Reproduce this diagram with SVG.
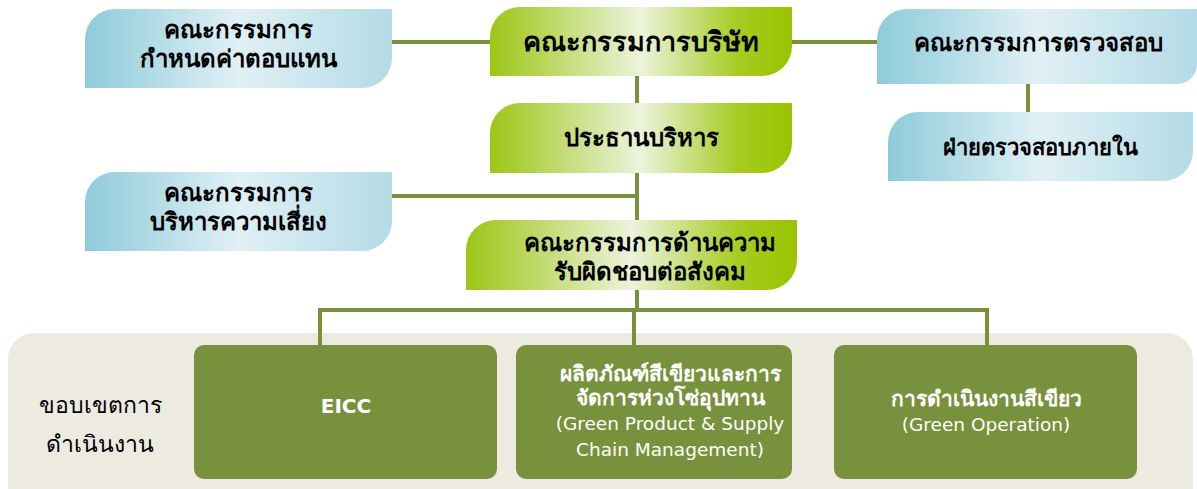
<svg xmlns="http://www.w3.org/2000/svg" width="1197" height="489" viewBox="0 0 1197 489">
<defs>
<linearGradient id="gb" x1="0" y1="0" x2="1" y2="0">
<stop offset="0" stop-color="#8ecbda"/>
<stop offset="0.5" stop-color="#e0f0f5"/>
<stop offset="1" stop-color="#b3dbe6"/>
</linearGradient>
<linearGradient id="gg" x1="0" y1="0" x2="1" y2="0">
<stop offset="0" stop-color="#9cc615"/>
<stop offset="0.5" stop-color="#ecf3dc"/>
<stop offset="0.82" stop-color="#a6cc22"/>
<stop offset="1" stop-color="#99c400"/>
</linearGradient>
<style>
.b{fill:url(#gb)}
.g{fill:url(#gg)}
.d{fill:#77913c}
.t{font-family:"DejaVu Sans","Noto Sans",sans-serif;font-weight:bold;font-size:24px;fill:#000;text-anchor:middle}
.w{font-family:"DejaVu Sans","Noto Sans",sans-serif;font-weight:bold;font-size:21px;fill:#fff;text-anchor:middle}
.e{font-family:"DejaVu Sans","Noto Sans",sans-serif;font-size:18.5px;fill:#fff;text-anchor:middle}
.l{font-family:"DejaVu Sans","Noto Sans",sans-serif;font-size:23px;fill:#000;text-anchor:middle}
.c{stroke:#77923a;stroke-width:4;fill:none}
</style>
</defs>
<rect x="8" y="333" width="1185" height="180" rx="26" fill="#edeae0"/>
<g id="connectors">
<line class="c" x1="392" y1="42" x2="490" y2="42"/>
<line class="c" x1="792" y1="42" x2="877" y2="42"/>
<line class="c" x1="637" y1="76" x2="637" y2="103"/>
<line class="c" x1="1028" y1="84" x2="1028" y2="112"/>
<line class="c" x1="637" y1="173" x2="637" y2="220"/>
<line class="c" x1="392" y1="196" x2="639" y2="196"/>
<line class="c" x1="637" y1="290" x2="637" y2="310"/>
<polyline class="c" points="320,345 320,310 987,310 987,345"/>
<line class="c" x1="634" y1="310" x2="634" y2="345"/>
</g>
<g id="n1">
<path class="b" d="M115,9 H392 V58 A30,30 0 0 1 362,88 H85 V39 A30,30 0 0 1 115,9 Z"/>
<text class="t" x="238" y="38">คณะกรรมการ</text>
<text class="t" x="238" y="67">กำหนดค่าตอบแทน</text>
</g>
<g id="n2">
<path class="g" d="M520,7 H792 V46 A30,30 0 0 1 762,76 H490 V37 A30,30 0 0 1 520,7 Z"/>
<text class="t" x="641" y="51" style="font-size:27px">คณะกรรมการบริษัท</text>
</g>
<g id="n3">
<path class="b" d="M907,9 H1197 V64 A20,20 0 0 1 1177,84 H877 V39 A30,30 0 0 1 907,9 Z"/>
<text class="t" x="1038" y="51">คณะกรรมการตรวจสอบ</text>
</g>
<g id="n4">
<path class="b" d="M918,112 H1193 V151 A30,30 0 0 1 1163,181 H888 V142 A30,30 0 0 1 918,112 Z"/>
<text class="t" x="1040" y="155" style="font-size:22px">ฝ่ายตรวจสอบภายใน</text>
</g>
<g id="n5">
<path class="g" d="M520,103 H792 V143 A30,30 0 0 1 762,173 H490 V133 A30,30 0 0 1 520,103 Z"/>
<text class="t" x="641" y="146">ประธานบริหาร</text>
</g>
<g id="n6">
<path class="b" d="M115,172 H392 V221 A30,30 0 0 1 362,251 H85 V202 A30,30 0 0 1 115,172 Z"/>
<text class="t" x="238" y="201">คณะกรรมการ</text>
<text class="t" x="238" y="230">บริหารความเสี่ยง</text>
</g>
<g id="n7">
<path class="g" d="M496,220 H797 V260 A30,30 0 0 1 767,290 H466 V250 A30,30 0 0 1 496,220 Z"/>
<text class="t" x="650" y="251">คณะกรรมการด้านความ</text>
<text class="t" x="650" y="280">รับผิดชอบต่อสังคม</text>
</g>
<g id="scope">
<text class="l" x="100" y="413">ขอบเขตการ</text>
<text class="l" x="100" y="452">ดำเนินงาน</text>
</g>
<g id="n8">
<rect class="d" x="194" y="345" width="303" height="134" rx="10"/>
<text class="w" x="346" y="413" style="font-size:20px">EICC</text>
</g>
<g id="n9">
<rect class="d" x="516" y="345" width="276" height="134" rx="10"/>
<text class="w" x="670" y="381">ผลิตภัณฑ์สีเขียวและการ</text>
<text class="w" x="670" y="405">จัดการห่วงโซ่อุปทาน</text>
<text class="e" x="670" y="430">(Green Product &amp; Supply</text>
<text class="e" x="670" y="456">Chain Management)</text>
</g>
<g id="n10">
<rect class="d" x="834" y="345" width="303" height="134" rx="10"/>
<text class="w" x="986" y="406">การดำเนินงานสีเขียว</text>
<text class="e" x="986" y="431">(Green Operation)</text>
</g>
</svg>
